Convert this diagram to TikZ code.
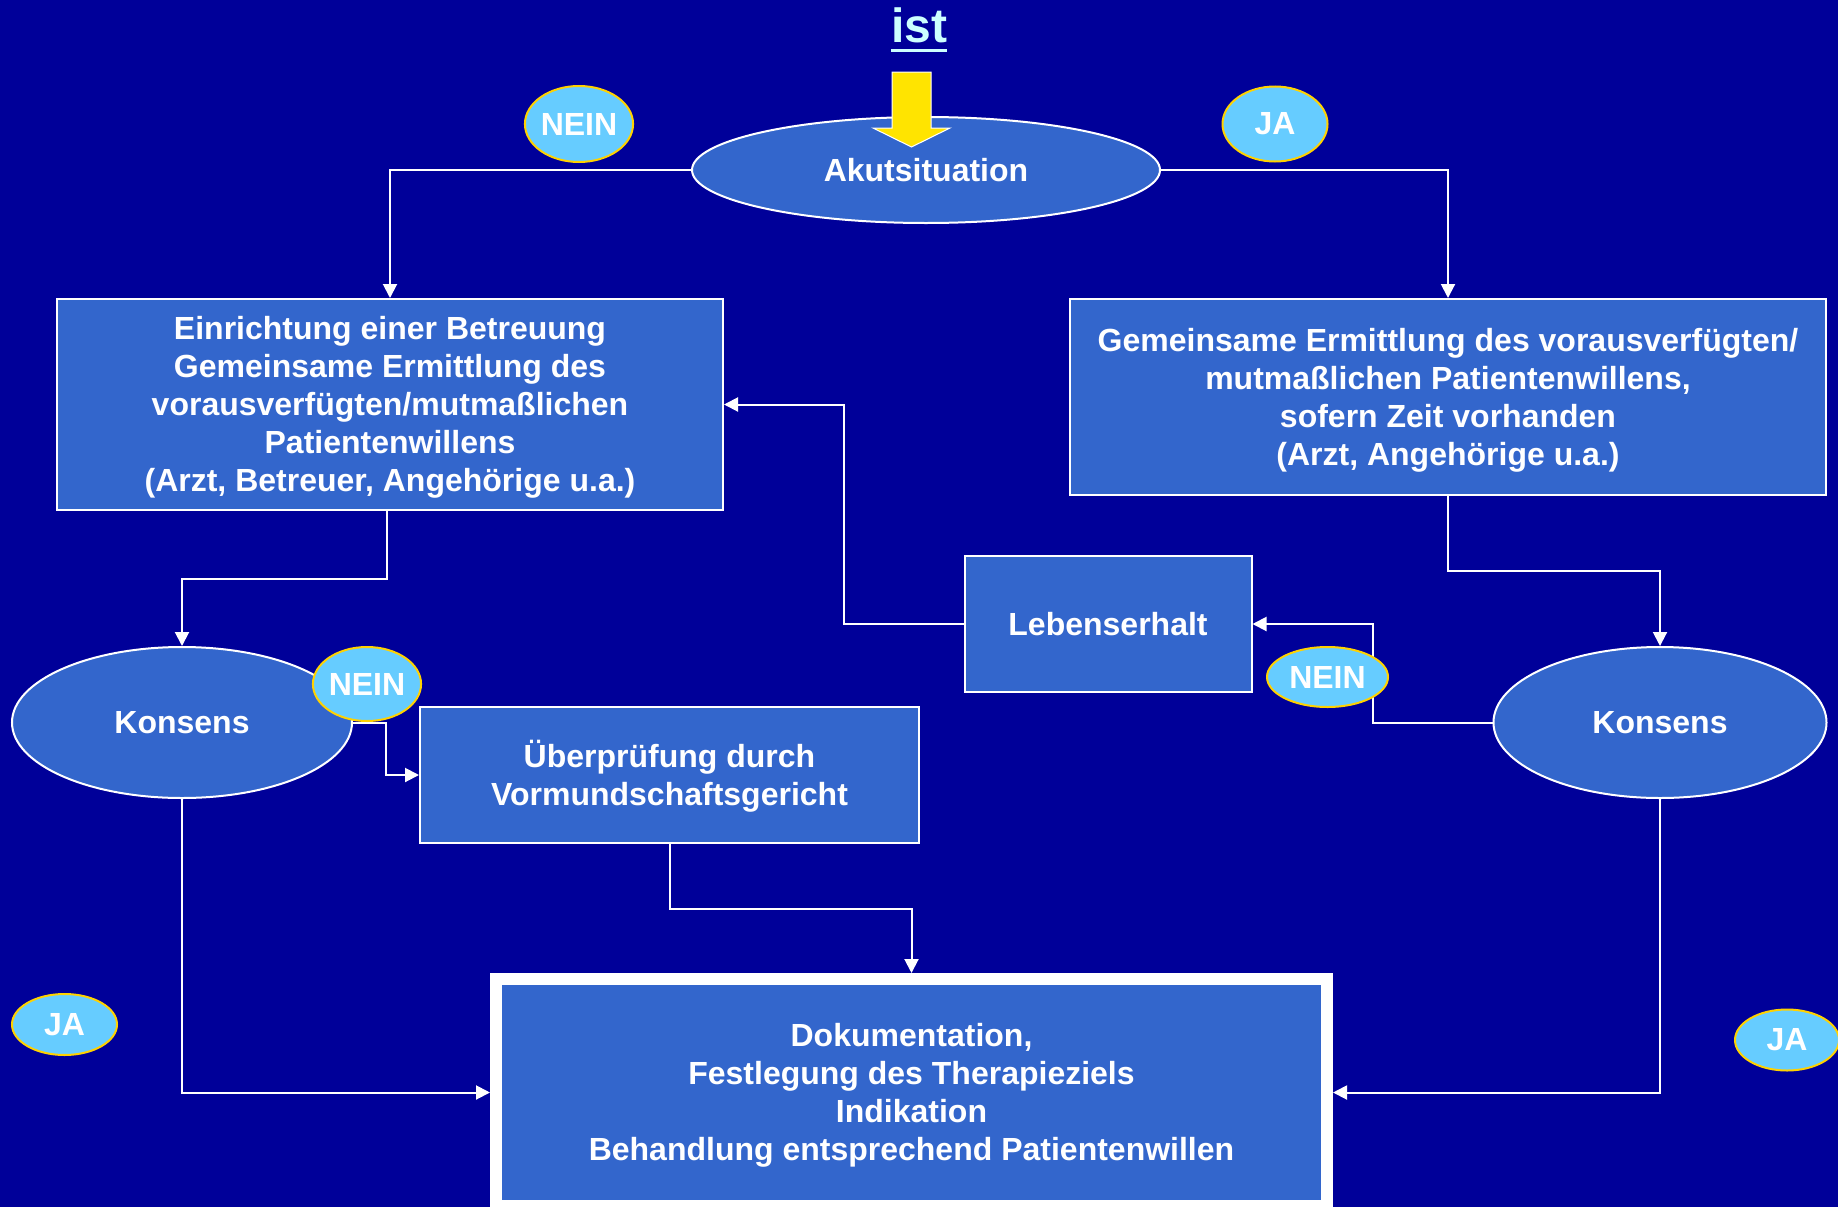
\documentclass[tikz,border=0pt]{standalone}
\usepackage{fontspec}
\setmainfont{Liberation Sans}
\usetikzlibrary{arrows.meta, calc, shapes.geometric}

\definecolor{hgblau}{RGB}{0,0,153}
\definecolor{kastenblau}{RGB}{51,102,204}
\definecolor{blasenblau}{RGB}{102,204,255}
\definecolor{gelbrand}{RGB}{255,210,0}
\definecolor{pfeilgelb}{RGB}{255,228,0}
\definecolor{istfarbe}{RGB}{204,255,255}

% Zeilenhoehen wie in der Vorlage
\newcommand{\oben}{\rule{0pt}{29pt}}
\newcommand{\unten}{\rule[-7pt]{0pt}{0pt}}

\begin{document}
\begin{tikzpicture}[x=1pt, y=-1pt,
  schrift/.style={font=\bfseries\fontsize{32}{38}\selectfont},
  kasten/.style={schrift, draw=white, line width=2pt, fill=kastenblau, text=white, align=center, inner sep=0},
  oval/.style={schrift, ellipse, draw=white, line width=2pt, fill=kastenblau, text=white, inner sep=0},
  blase/.style={schrift, ellipse, draw=gelbrand, line width=2pt, fill=blasenblau, text=white, inner sep=0},
  pfeil/.style={draw=white, line width=2pt, -{Triangle[length=14pt,width=14pt]}}]
% Hintergrund
\useasboundingbox (0,0) rectangle (1838,1207);
\fill[hgblau] (0,0) rectangle (1838,1207);
% Titel
\node[anchor=base, text=istfarbe, font=\bfseries\fontsize{48}{56}\selectfont, inner sep=0] (ist) at (919,43) {ist};
\draw[istfarbe, line width=3pt] ($(ist.base west)+(0,7.5)$) -- ($(ist.base east)+(0,7.5)$);
% Knoten
\node[oval, minimum width=468, minimum height=106] (akut) at (926,170) {Akutsituation};
\node[kasten, minimum width=666, minimum height=211] (betreu) at (390,404.5) {\oben Einrichtung einer Betreuung\\Gemeinsame Ermittlung des\\vorausverfügten/mutmaßlichen\\Patientenwillens\\(Arzt, Betreuer, Angehörige u.a.)\unten};
\node[kasten, minimum width=756, minimum height=196] (ermitt) at (1448,397) {\oben Gemeinsame Ermittlung des vorausverfügten/\\mutmaßlichen Patientenwillens,\\sofern Zeit vorhanden\\(Arzt, Angehörige u.a.)\unten};
\node[kasten, minimum width=287, minimum height=136] (leben) at (1108,624) {Lebenserhalt};
\node[oval, minimum width=340, minimum height=151] (konsL) at (182,722.5) {Konsens};
\node[oval, minimum width=333, minimum height=151] (konsR) at (1660,722.5) {Konsens};
\node[kasten, minimum width=499, minimum height=136] (pruef) at (669.5,775) {\oben Überprüfung durch\\Vormundschaftsgericht\unten};
\node[kasten, line width=12pt, minimum width=831, minimum height=227] (doku) at (911.5,1092.5) {\oben Dokumentation,\\Festlegung des Therapieziels\\Indikation\\Behandlung entsprechend Patientenwillen\unten};
% Verbindungen
\draw[pfeil] (akut.west) -| (betreu.north);
\draw[pfeil] (akut.east) -| (ermitt.north);
\draw[pfeil] ($(betreu.south)+(-3.5,0)$) |- ($(betreu.south)!.5!(konsL.north)$) -| (konsL.north);
\draw[pfeil] (ermitt.south) |- ($(ermitt.south)!.5!(konsR.north)$) -| (konsR.north);
\draw[pfeil] (konsR.west) -| ($(konsR.west)!.5!(leben.east)$) |- (leben.east);
\draw[pfeil] (leben.west) -| ($(leben.west)!.5!(betreu.east)$) |- (betreu.east);
\draw[pfeil] (konsL.east) -| ($(konsL.east)!.5!(pruef.west)$) |- (pruef.west);
\draw[pfeil] (pruef.south) |- ($(pruef.south)!.5!(doku.north)$) -| (doku.north);
\draw[pfeil] (konsL.south) |- (doku.west);
\draw[pfeil] (konsR.south) |- (doku.east);
% Gelber Pfeil
\filldraw[fill=pfeilgelb, draw=white, line width=1pt] (892,72) -- (931,72) -- (931,128) -- (950,128) -- (911.5,147) -- (873,128) -- (892,128) -- cycle;
% Blasen
\node[blase, minimum width=107, minimum height=76] (nein1) at (579,124) {NEIN};
\node[blase, minimum width=105, minimum height=75] (ja1) at (1275,124) {JA};
\node[blase, minimum width=105, minimum height=74] (nein2) at (367,684) {NEIN};
\node[blase, minimum width=121, minimum height=60] (nein3) at (1327.5,677) {NEIN};
\node[blase, minimum width=105, minimum height=61] (ja2) at (64.5,1024.5) {JA};
\node[blase, minimum width=104, minimum height=61] (ja3) at (1787,1040) {JA};
\end{tikzpicture}
\end{document}
